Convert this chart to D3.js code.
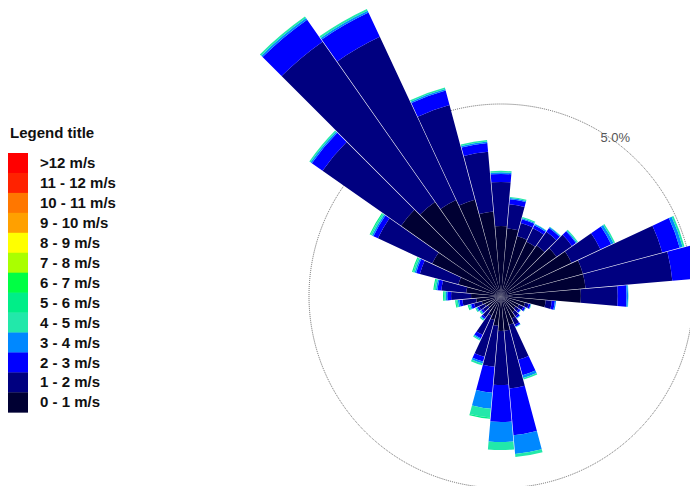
<!DOCTYPE html>
<html><head><meta charset="utf-8">
<script src="https://cdn.jsdelivr.net/npm/d3@7"></script>
<style>html,body{margin:0;padding:0;background:#fff;}svg{display:block;font-family:"Liberation Sans",Arial,sans-serif;}</style>
</head><body>
<script>
const directions = d3.range(0, 360, 10);
const speedBins = [">12 m/s","11 - 12 m/s","10 - 11 m/s","9 - 10 m/s","8 - 9 m/s","7 - 8 m/s","6 - 7 m/s","5 - 6 m/s","4 - 5 m/s","3 - 4 m/s","2 - 3 m/s","1 - 2 m/s","0 - 1 m/s"];
const binColors = ["#ff0000","#ff2200","#ff7700","#ffa000","#ffff00","#aaff00","#00ff44","#00ee88","#22e8aa","#0088ff","#0000ff","#000080","#000033"];
// frequencies (%) per direction 0..350, one array per speed bin
const s0_1 = [1.82,1.77,1.61,1.56,1.61,1.77,2.03,2.21,2.21,2.08,1.17,0.65,0.52,0.47,0.52,0.65,0.78,0.91,0.91,0.78,0.65,0.57,0.47,0.42,0.47,0.52,0.65,0.78,0.91,1.15,1.98,3.18,2.99,2.76,2.60,2.21];
const s1_2 = [1.15,0.63,0.36,0.39,0.44,0.49,0.83,2.14,2.27,0.96,0.16,0.10,0.13,0.10,0.13,0.18,0.94,1.51,1.41,1.07,0.99,0.55,0.21,0.16,0.16,0.21,0.36,0.52,0.65,1.04,1.56,2.50,5.10,4.69,2.55,1.56];
const s2_3 = [0.21,0.13,0.10,0.09,0.12,0.13,0.31,0.47,0.91,0.23,0.08,0.05,0.05,0.05,0.05,0.05,0.42,1.22,0.96,0.68,0.13,0.10,0.05,0.05,0.05,0.08,0.08,0.10,0.10,0.10,0.13,0.34,0.70,0.70,0.39,0.23];
const s3_4 = [0.04,0.03,0.03,0.03,0.03,0.03,0.07,0.08,0.13,0.04,0.03,0.01,0.01,0.01,0.01,0.01,0.07,0.49,0.52,0.42,0.05,0.03,0.03,0.03,0.03,0.03,0.04,0.04,0.04,0.04,0.04,0.04,0.05,0.05,0.04,0.04];
const s4_5 = [0.04,0.03,0.03,0.01,0.01,0.03,0.04,0.05,0.08,0.01,0.00,0.01,0.01,0.01,0.01,0.01,0.04,0.08,0.21,0.23,0.05,0.03,0.03,0.03,0.03,0.03,0.04,0.04,0.04,0.04,0.04,0.04,0.05,0.05,0.04,0.04];
const s5_6 = [0,0,0,0,0,0,0,0,0,0,0,0,0,0,0,0,0,0,0,0.03,0,0,0,0,0,0.03,0.03,0.03,0.03,0.03,0.03,0,0,0,0,0];
const zeros = directions.map(() => 0);
// stacked from centre outward (calm -> strong)
const series = [s0_1, s1_2, s2_3, s3_4, s4_5, s5_6, zeros, zeros, zeros, zeros, zeros, zeros, zeros];
const gridValues = [5];
const gridLabels = ["5.0%"];

const W = 690, H = 486, cx = 501, cy = 296;
const svg = d3.select("body").append("svg").attr("width", W).attr("height", H);
svg.append("rect").attr("width", W).attr("height", H).attr("fill", "#fff");

const r = d3.scaleLinear().domain([0, 5]).range([0, 192]);
const g = svg.append("g").attr("transform", `translate(${cx},${cy})`);

g.selectAll("circle.grid").data(gridValues).join("circle")
  .attr("r", d => r(d)).attr("fill", "none")
  .attr("stroke", "#666").attr("stroke-width", 1).attr("stroke-dasharray", "1,1");

const colorsInner = binColors.slice().reverse();
const arc = d3.arc().padAngle(0.006).padRadius(100);
const rad = Math.PI / 180;
directions.forEach((dir, i) => {
  let acc = 0;
  series.forEach((s, k) => {
    const v = s[i];
    if (v <= 0) return;
    g.append("path")
      .attr("d", arc({innerRadius: r(acc), outerRadius: r(acc + v), startAngle: (dir - 5) * rad, endAngle: (dir + 5) * rad}))
      .attr("fill", colorsInner[k]);
    acc += v;
  });
});

const la = 36.5 * rad;
g.selectAll("text.glab").data(gridValues).join("text")
  .attr("x", d => r(d) * Math.sin(la)).attr("y", d => -r(d) * Math.cos(la))
  .attr("text-anchor", "middle").attr("font-size", 13).attr("fill", "#555")
  .text((d, i) => gridLabels[i]);

const lg = svg.append("g");
lg.append("text").attr("x", 10).attr("y", 138).attr("font-size", 15).attr("font-weight", "bold").attr("fill", "#111").text("Legend title");
const rowH = 19.95, legTop = 153;
speedBins.forEach((lab, i) => {
  lg.append("rect").attr("x", 8).attr("y", legTop + i * rowH).attr("width", 20).attr("height", rowH + 0.3).attr("fill", binColors[i]);
  lg.append("text").attr("x", 40).attr("y", legTop + i * rowH + 15).attr("font-size", 15).attr("font-weight", "bold").attr("fill", "#111").text(lab);
});
</script>
</body></html>
